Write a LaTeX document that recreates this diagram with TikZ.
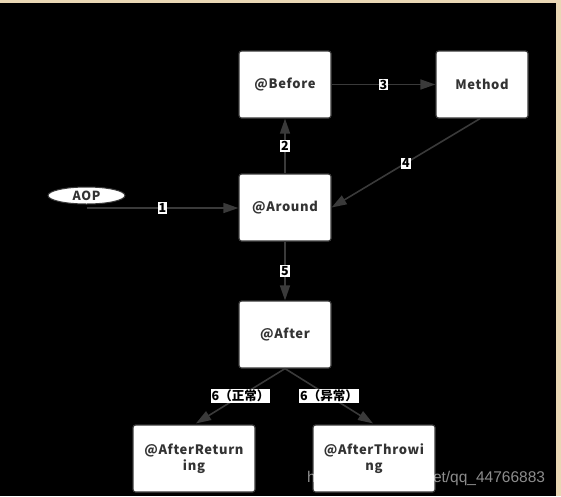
\documentclass[tikz,border=0pt]{standalone}
\usepackage{fontspec}
\setmainfont{Noto Sans CJK SC}
\newfontfamily\wmfont{Liberation Sans}
\newfontfamily\boxfont[LetterSpace=5]{Noto Sans CJK SC}
\usetikzlibrary{arrows.meta,shapes.geometric,calc}
\definecolor{beige}{HTML}{EAD7B5}
\definecolor{edge}{HTML}{3A3A3A}
\definecolor{txt}{HTML}{333333}
\begin{document}
\begin{tikzpicture}[x=1pt,y=-1pt,
  box/.style={draw=edge,line width=1.2pt,fill=white,rounded corners=2.5pt,minimum width=92pt,minimum height=67pt,inner sep=0pt,font=\boxfont\fontsize{13}{16}\selectfont\bfseries,text=txt,align=center},
  wbox/.style={box,minimum width=122pt},
  conn/.style={draw=edge,line width=1.6pt,-{Triangle[length=15pt,width=10pt]}},
  lbl/.style={fill=white,text=black,inner sep=1pt,font=\fontsize{12.5}{14}\selectfont\bfseries}]
\fill[beige] (0,0) rectangle (561,496);
\fill[black] (0,3) rectangle (556,496);
\useasboundingbox (0,0) rectangle (561,496);
\node[box] (before) at (285,84.5) {@Before};
\node[box] (method) at (482,84.5) {Method};
\node[box] (around) at (285,207.5) {@Around};
\node[box] (after) at (285,334.5) {@After};
\node[wbox] (ret) at (194,458.5) {@AfterReturn\\ing};
\node[wbox] (thr) at (374,458.5) {@AfterThrowi\\ng};
\node[draw=edge,line width=1pt,fill=white,ellipse,minimum width=77pt,minimum height=17pt,inner sep=0pt,font=\boxfont\fontsize{12.5}{14}\selectfont\bfseries,text=txt] (aop) at (86.5,195.5) {AOP};
\coordinate (aops) at (86.5,208);
\draw[conn] (aops) -- node[lbl]{1} (around.west |- aops);
\draw[conn] (around) -- node[lbl]{2} (before);
\draw[conn] (before) -- node[lbl]{3} (method);
\coordinate (ms) at ($(method.south)+(-2,0)$);
\draw[conn] (ms) -- node[lbl,pos=0.5]{4} (around.east);
\draw[conn] (around) -- node[lbl]{5} (after);
\draw[conn] (after.south) -- node[lbl,pos=0.5]{6（正常）} ($(ret.north)+(2,-1)$);
\draw[conn] (after.south) -- node[lbl,pos=0.5]{6（异常）} ($(thr.north)+(-1,-1)$);
\node[anchor=base west,inner sep=0pt,text=white,opacity=0.55,font=\wmfont\fontsize{15.5}{17}\selectfont] (wm) at (307,482) {https://blog.csdn.net/qq\_44766883};
\end{tikzpicture}
\end{document}
